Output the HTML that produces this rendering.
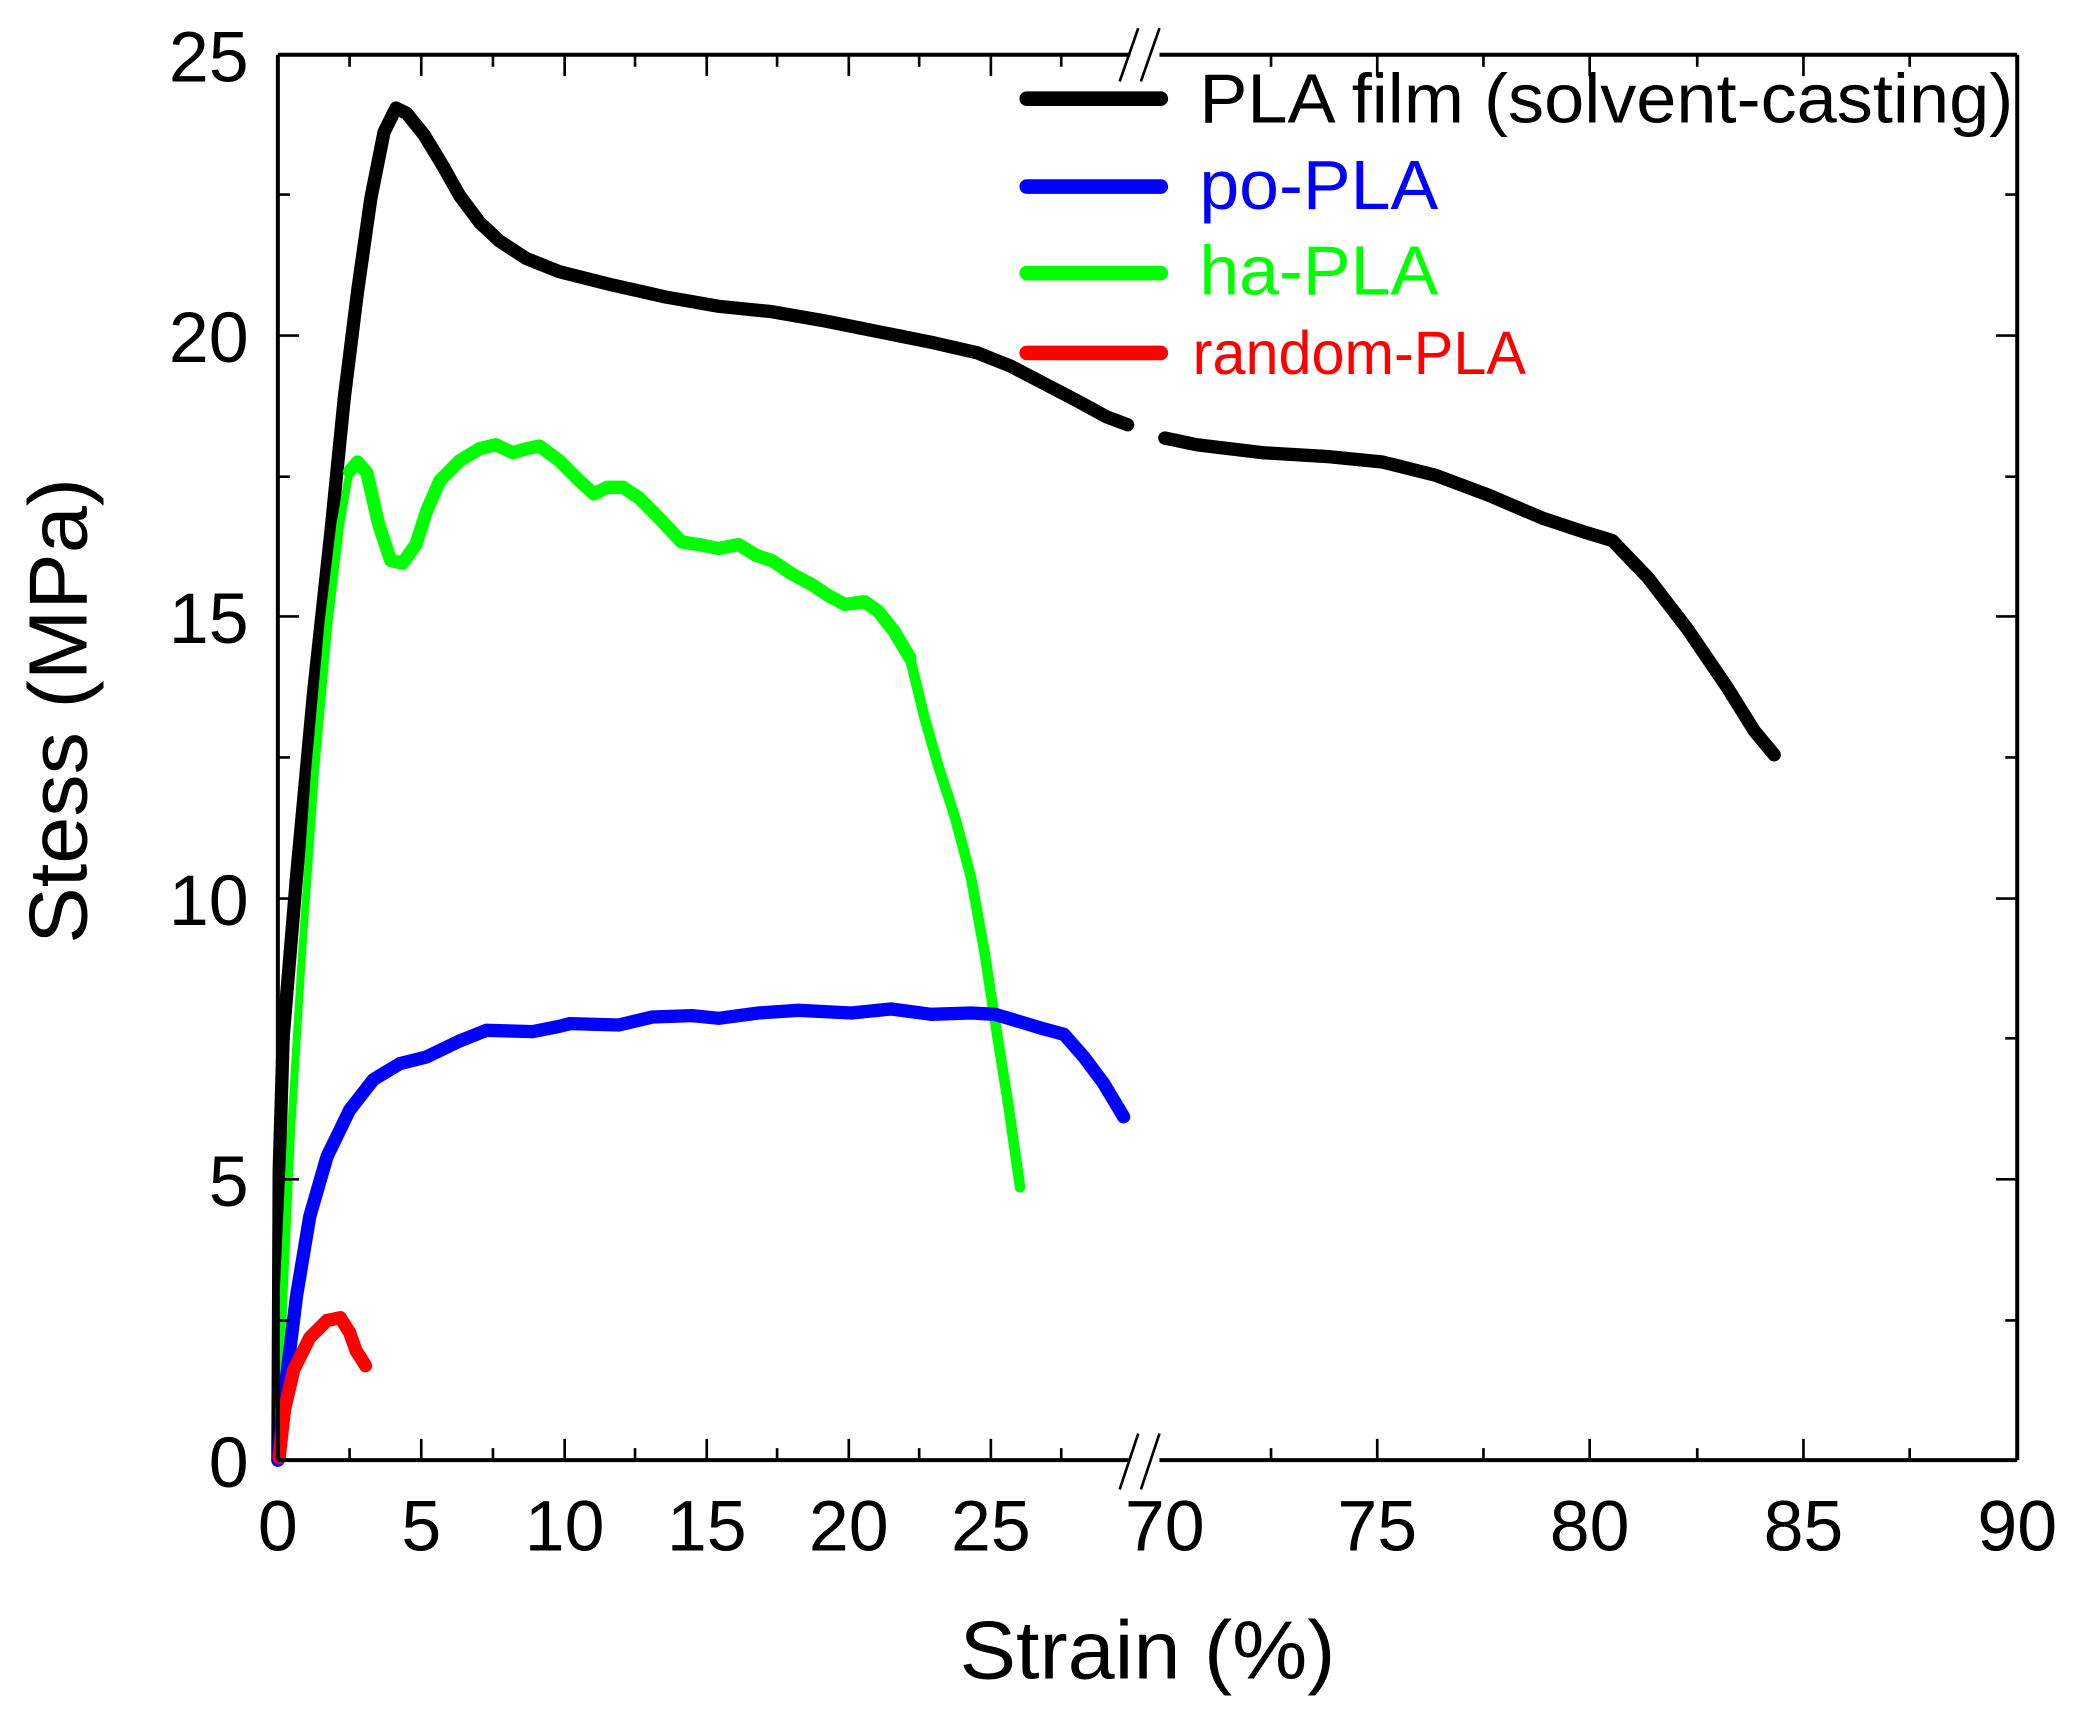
<!DOCTYPE html>
<html><head><meta charset="utf-8"><style>html,body{margin:0;padding:0;background:#fff;}svg{display:block;}</style></head>
<body>
<svg width="2084" height="1721" viewBox="0 0 1560 1288" preserveAspectRatio="none" xmlns="http://www.w3.org/2000/svg" font-family="Liberation Sans, Arial, sans-serif">
<rect width="1560" height="1288" fill="#fff"/>
<g transform="matrix(0.9939 0 0 0.996 1.27 -0.83)">
<g fill="none" stroke-linecap="round" stroke-linejoin="round">
<polyline stroke="#000" stroke-width="10" points="208,1098 209,880 212,780 222,660 235,520 248,400 258,300 268,220 278,150 288,100 297,82 305,86 318,102 332,125 345,148 360,168 375,182 395,195 420,205 460,215 500,224 540,231 580,235 620,242 660,250 700,258 735,266 760,276 785,289 810,302 832,314 848,320"/>
<polyline stroke="#000" stroke-width="10" points="876,330 900,335 950,341 1000,344 1040,348 1080,358 1120,373 1160,390 1190,400 1213,407 1240,435 1270,474 1300,518 1320,550 1335,568"/>
<polyline stroke="#00ff00" stroke-width="6" points="208,1098 212,980 218,850 226,720 236,580 246,470 255,395 262,355"/>
<polyline stroke="#00ff00" stroke-width="10" points="262,355 268,348 275,356 284,395 293,422 302,424 312,410 320,385 330,362 345,347 360,338 372,335 385,341 395,338 405,336 420,347 435,362 446,372 456,367 468,367 480,375 495,390 512,408 525,410 540,413 555,410 568,418 580,422 595,432 610,440 622,448 635,455 650,453 660,460 672,475 684,495"/>
<polyline stroke="#00ff00" stroke-width="8" points="684,495 695,540 705,575 718,615 730,660 740,715 750,780 758,830 763,865 767,893"/>
<polyline stroke="#0000ff" stroke-width="10" points="208,1098 214,1040 222,975 232,915 245,870 262,835 280,812 300,800 320,795 345,783 365,775 400,776 420,772 428,770 465,771 490,765 520,764 540,766 570,762 600,760 640,762 670,759 700,763 730,762 748,763 765,768 785,774 800,778 815,795 830,815 845,840"/>
<polyline stroke="#ff0000" stroke-width="10" points="209,1096 213,1060 220,1030 232,1006 245,993 255,991 262,1002 267,1016 271,1022 274,1027"/>
</g>
<g stroke="#000" stroke-width="3" fill="none">
<line x1="208" y1="1098" x2="850" y2="1098"/>
<line x1="872" y1="1098" x2="1518" y2="1098"/>
<line x1="208" y1="42" x2="850" y2="42"/>
<line x1="872" y1="42" x2="1518" y2="42"/>
<line x1="208" y1="42" x2="208" y2="1098"/>
<line x1="1518" y1="42" x2="1518" y2="1098"/>
</g>
<g stroke="#000" stroke-width="2">
<line x1="842" y1="1120" x2="856" y2="1078"/><line x1="858" y1="1120" x2="872" y2="1078"/>
<line x1="842" y1="62" x2="856" y2="22"/><line x1="858" y1="62" x2="872" y2="22"/>
</g>
<g stroke="#000" stroke-width="2">
<path d="M316,1098v-16M424,1098v-16M531,1098v-16M638,1098v-16M745,1098v-16M1036,1098v-16M1196,1098v-16M1357,1098v-16
M262,1098v-9M370,1098v-9M477,1098v-9M584,1098v-9M691,1098v-9M798,1098v-9M956,1098v-9M1116,1098v-9M1277,1098v-9M1437,1098v-9
M316,42v16M424,42v16M531,42v16M638,42v16M745,42v16M1036,42v16M1196,42v16M1357,42v16
M262,42v9M370,42v9M477,42v9M584,42v9M691,42v9M798,42v9M956,42v9M1116,42v9M1277,42v9M1437,42v9
M208,887h16M208,676h16M208,464h16M208,253h16
M208,993h9M208,781h9M208,570h9M208,359h9M208,147h9
M1518,887h-16M1518,676h-16M1518,464h-16M1518,253h-16
M1518,993h-9M1518,781h-9M1518,570h-9M1518,359h-9M1518,147h-9"/>
</g>
<g font-size="54" fill="#000" text-anchor="end">
<text x="186" y="1118">0</text><text x="186" y="907">5</text><text x="186" y="696">10</text>
<text x="186" y="484">15</text><text x="186" y="273">20</text><text x="186" y="62">25</text>
</g>
<g font-size="54" fill="#000" text-anchor="middle">
<text x="208" y="1166">0</text><text x="316" y="1166">5</text><text x="424" y="1166">10</text>
<text x="531" y="1166">15</text><text x="638" y="1166">20</text><text x="745" y="1166">25</text>
<text x="876" y="1166">70</text><text x="1036" y="1166">75</text><text x="1196" y="1166">80</text>
<text x="1357" y="1166">85</text><text x="1518" y="1166">90</text>
</g>
<text x="863" y="1262" font-size="62" text-anchor="middle" textLength="283" lengthAdjust="spacingAndGlyphs">Strain (%)</text>
<text transform="translate(64,535) rotate(-90)" font-size="62" text-anchor="middle" textLength="350" lengthAdjust="spacingAndGlyphs">Stess (MPa)</text>
<g stroke-width="11" stroke-linecap="round">
<line x1="772" y1="75" x2="873" y2="75" stroke="#000"/>
<line x1="772" y1="141" x2="873" y2="141" stroke="#0000ff"/>
<line x1="772" y1="206" x2="873" y2="206" stroke="#00ff00"/>
<line x1="772" y1="266" x2="873" y2="266" stroke="#ff0000"/>
</g>
<text x="902" y="93" font-size="52" fill="#000" textLength="613" lengthAdjust="spacingAndGlyphs">PLA film (solvent-casting)</text>
<text x="902" y="158" font-size="52" fill="#0000ff" textLength="180" lengthAdjust="spacingAndGlyphs">po-PLA</text>
<text x="902" y="222" font-size="52" fill="#00ff00" textLength="180" lengthAdjust="spacingAndGlyphs">ha-PLA</text>
<text x="897" y="282" font-size="46" fill="#ff0000" textLength="251" lengthAdjust="spacingAndGlyphs">random-PLA</text>
</g>
</svg>
</body></html>
